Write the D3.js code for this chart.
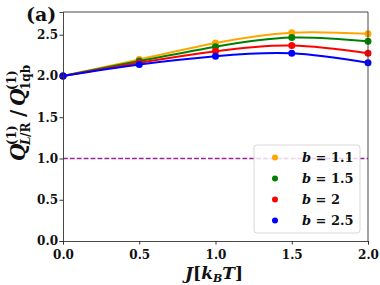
<!DOCTYPE html>
<html lang="en">
<head>
  <meta charset="UTF-8">
  <title>Q ratio vs J</title>
  <style>
    body { margin: 0; background: #fff; }
  </style>
</head>
<body>
  <svg id="svg" width="380" height="285"></svg>

  <script src="https://d3js.org/d3.v7.min.js"></script>
  <script>
    // data
    const jValues = [0, 0.5, 1.0, 1.5, 2.0]
    const bLabels = ['1.1', '1.5', '2', '2.5']
    const colors = ['orange', 'green', 'red', 'blue']
    const qB11 = [2.00, 2.20, 2.40, 2.525, 2.51]
    const qB15 = [2.00, 2.18, 2.355, 2.465, 2.42]
    const qB2 = [2.00, 2.16, 2.30, 2.37, 2.275]
    const qB25 = [2.00, 2.14, 2.24, 2.275, 2.16]
    const xTicks = [0, 0.5, 1.0, 1.5, 2.0]
    const yTicks = [0, 0.5, 1.0, 1.5, 2.0, 2.5]
    const refLevel = 1.0

    const series = [qB11, qB15, qB2, qB25]
    const serif = 'DejaVu Serif, Liberation Serif, serif'

    const margin = { top: 12, right: 12, bottom: 44, left: 63 }
    const width = 380 - margin.left - margin.right
    const height = 285 - margin.top - margin.bottom

    const svg = d3.select('#svg')
    const g = svg.append('g').attr('transform', `translate(${margin.left},${margin.top})`)

    const x = d3.scaleLinear().domain([0, 2]).range([0, width])
    const y = d3.scaleLinear().domain([0, 2.775]).range([height, 0])

    // dashed reference line
    g.append('line')
      .attr('x1', 0).attr('x2', width)
      .attr('y1', y(refLevel)).attr('y2', y(refLevel))
      .attr('stroke', '#a020a0')
      .attr('stroke-width', 1.3)
      .attr('stroke-dasharray', '4.8,2.1')

    const line = d3.line()
      .x((d, i) => x(jValues[i]))
      .y(d => y(d))
      .curve(d3.curveNatural)

    series.forEach((s, k) => {
      g.append('path')
        .datum(s)
        .attr('d', line)
        .attr('fill', 'none')
        .attr('stroke', colors[k])
        .attr('stroke-width', 2)
      g.selectAll(null)
        .data(s)
        .join('circle')
        .attr('cx', (d, i) => x(jValues[i]))
        .attr('cy', d => y(d))
        .attr('r', 3.5)
        .attr('fill', colors[k])
    })

    // axes
    const xAxis = g.append('g')
      .attr('transform', `translate(0,${height})`)
      .call(d3.axisBottom(x).tickValues(xTicks).tickFormat(d3.format('.1f')).tickSizeOuter(0).tickSize(3.5))
    const yAxis = g.append('g')
      .call(d3.axisLeft(y).tickValues(yTicks).tickFormat(d3.format('.1f')).tickSizeOuter(0).tickSize(3.5))
    g.append('line').attr('x1', 0).attr('x2', width).attr('y1', 0).attr('y2', 0)
      .attr('stroke', '#333').attr('stroke-width', 0.9)
    g.append('line').attr('x1', width).attr('x2', width).attr('y1', 0).attr('y2', height)
      .attr('stroke', '#333').attr('stroke-width', 0.9)

    for (const ax of [xAxis, yAxis]) {
      ax.attr('font-family', serif).attr('font-size', 12).attr('font-weight', 'bold')
      ax.select('.domain').attr('stroke', '#333').attr('stroke-width', 0.9)
      ax.selectAll('.tick line').attr('stroke', '#333')
      ax.selectAll('.tick text').attr('fill', '#111')
    }
    xAxis.selectAll('.tick text').attr('dy', '0.95em')
    yAxis.selectAll('.tick text').attr('x', -5)

    // legend
    const lg = g.append('g').attr('transform', `translate(${254 - margin.left},${145 - margin.top})`)
      .attr('font-family', serif).attr('font-weight', 'bold')
    lg.append('rect')
      .attr('width', 106).attr('height', 88).attr('rx', 3)
      .attr('fill', 'white').attr('fill-opacity', 0.8)
      .attr('stroke', '#d8d8d8').attr('stroke-width', 1)
    bLabels.forEach((b, k) => {
      const row = lg.append('g').attr('transform', `translate(0,${12.5 + k * 21})`)
      row.append('circle').attr('cx', 21).attr('cy', 0).attr('r', 3).attr('fill', colors[k])
      const t = row.append('text').attr('x', 48).attr('y', 4.5).attr('font-size', 13).attr('fill', '#111')
      t.append('tspan').attr('font-style', 'italic').text('b')
      t.append('tspan').text(' = ' + b)
    })

    // x label
    const xl = svg.append('text')
      .attr('x', 214).attr('y', 279).attr('text-anchor', 'middle')
      .attr('font-family', serif).attr('font-weight', 'bold')
      .attr('font-size', 17).attr('fill', '#111')
    xl.append('tspan').attr('font-style', 'italic').text('J')
    xl.append('tspan').text('[')
    xl.append('tspan').attr('font-style', 'italic').text('k')
    xl.append('tspan').attr('font-style', 'italic').attr('font-size', 11).attr('dy', 3).text('B')
    xl.append('tspan').attr('font-style', 'italic').attr('dy', -3).text('T')
    xl.append('tspan').text(']')

    // y label
    const yl = svg.append('g').attr('transform', 'translate(25,161) rotate(-90)')
      .attr('font-family', serif).attr('font-weight', 'bold')
    const parts = [
      { t: 'Q', x: 0, y: 0, s: 20, it: true },
      { t: '(1)', x: 16, y: -9, s: 12 },
      { t: 'L', x: 16, y: 5, s: 12, it: true },
      { t: '/R', x: 24, y: 5, s: 12 },
      { t: '/', x: 44, y: 0, s: 20 },
      { t: 'Q', x: 55, y: 0, s: 20, it: true },
      { t: '(1)', x: 71, y: -9, s: 12 },
      { t: '1qb', x: 71, y: 5, s: 12 }
    ]
    parts.forEach(p => {
      yl.append('text').attr('x', p.x).attr('y', p.y).attr('font-size', p.s)
        .attr('font-style', p.it ? 'italic' : 'normal').attr('fill', '#111').text(p.t)
    })

    // panel tag
    svg.append('text').attr('x', 26).attr('y', 21)
      .attr('font-family', serif).attr('font-weight', 'bold')
      .attr('font-size', 19).attr('fill', '#111').text('(a)')
  </script>
</body>
</html>
